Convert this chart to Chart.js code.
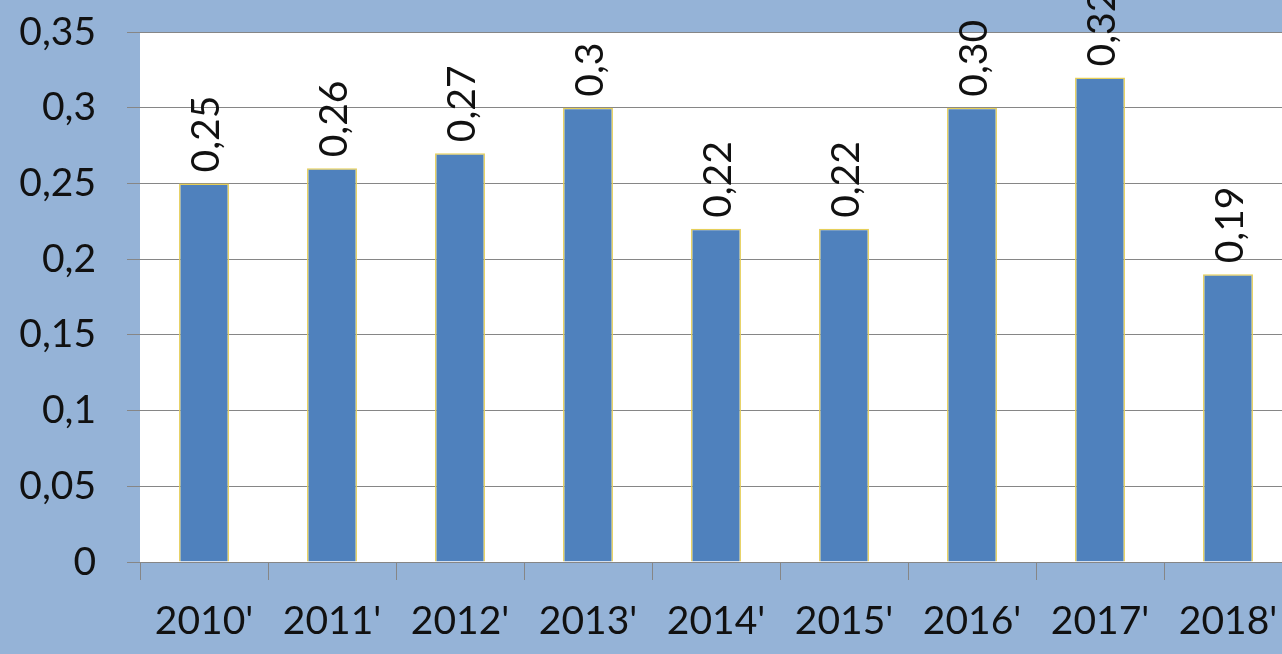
<!DOCTYPE html>
<html>
<head>
  <title>Bar chart 2010-2018</title>
  <script src="https://cdn.jsdelivr.net/npm/chart.js"></script>
  <style>
    body { margin: 0; overflow: hidden; background: #95b3d7; }
    #wrap { width: 1300px; height: 654px; }
  </style>
</head>
<body>
  <div id="wrap"><canvas id="barChart" width="1300" height="654"></canvas></div>

  <script>
    // chart data
    const years = ["2010'", "2011'", "2012'", "2013'", "2014'", "2015'", "2016'", "2017'", "2018'"];
    const values = [0.25, 0.26, 0.27, 0.30, 0.22, 0.22, 0.30, 0.32, 0.19];
    const valueLabels = ['0,25', '0,26', '0,27', '0,3', '0,22', '0,22', '0,30', '0,32', '0,19'];
    const yTickLabels = ['0', '0,05', '0,1', '0,15', '0,2', '0,25', '0,3', '0,35'];

    const FONT = 'Lato, "Open Sans", sans-serif';

    // blue page + white plot area
    const backgroundPlugin = {
      id: 'bg',
      beforeDraw(chart) {
        const ctx = chart.ctx;
        const a = chart.chartArea;
        ctx.save();
        ctx.fillStyle = '#95b3d7';
        ctx.fillRect(0, 0, chart.width, chart.height);
        ctx.fillStyle = '#ffffff';
        ctx.fillRect(a.left, a.top, a.right - a.left, a.bottom - a.top);
        ctx.restore();
      }
    };

    // rotated value labels above each bar
    const valueLabelPlugin = {
      id: 'valueLabels',
      afterDatasetsDraw(chart) {
        const ctx = chart.ctx;
        const meta = chart.getDatasetMeta(0);
        ctx.save();
        ctx.font = '39px ' + FONT;
        ctx.fillStyle = '#111';
        ctx.textAlign = 'left';
        ctx.textBaseline = 'middle';
        meta.data.forEach((bar, i) => {
          ctx.save();
          ctx.translate(bar.x + 2, bar.y - 11);
          ctx.rotate(-Math.PI / 2);
          ctx.fillText(valueLabels[i], 0, 0);
          ctx.restore();
        });
        ctx.restore();
      }
    };

    new Chart(document.getElementById('barChart'), {
      type: 'bar',
      data: {
        labels: years,
        datasets: [{
          data: values,
          backgroundColor: '#4f81bd',
          borderColor: '#e6cf5a',
          borderWidth: 1.5,
          barPercentage: 0.39,
          categoryPercentage: 1.0
        }]
      },
      options: {
        responsive: false,
        animation: false,
        layout: { padding: { top: 32, right: 8, left: 0, bottom: 0 } },
        plugins: { legend: { display: false }, tooltip: { enabled: false } },
        scales: {
          x: {
            offset: true,
            grid: {
              offset: true,
              drawOnChartArea: false,
              color: '#868686',
              tickLength: 18
            },
            border: { color: '#868686', width: 1 },
            ticks: {
              color: '#111',
              font: { family: FONT, size: 39 },
              padding: 18,
              maxRotation: 0,
              autoSkip: false
            },
            afterFit(scale) {
              scale.height = 92;
              scale.paddingLeft = 0;
              scale.paddingRight = 0;
            }
          },
          y: {
            min: 0,
            max: 0.35,
            grid: { color: '#868686', tickLength: 13 },
            border: { display: false },
            ticks: {
              stepSize: 0.05,
              color: '#111',
              font: { family: FONT, size: 39 },
              padding: 31,
              callback: (value, index) => yTickLabels[index]
            },
            afterFit(scale) {
              scale.width = 140;
              scale.paddingTop = 0;
              scale.paddingBottom = 0;
            }
          }
        }
      },
      plugins: [backgroundPlugin, valueLabelPlugin]
    });
  </script>
</body>
</html>
